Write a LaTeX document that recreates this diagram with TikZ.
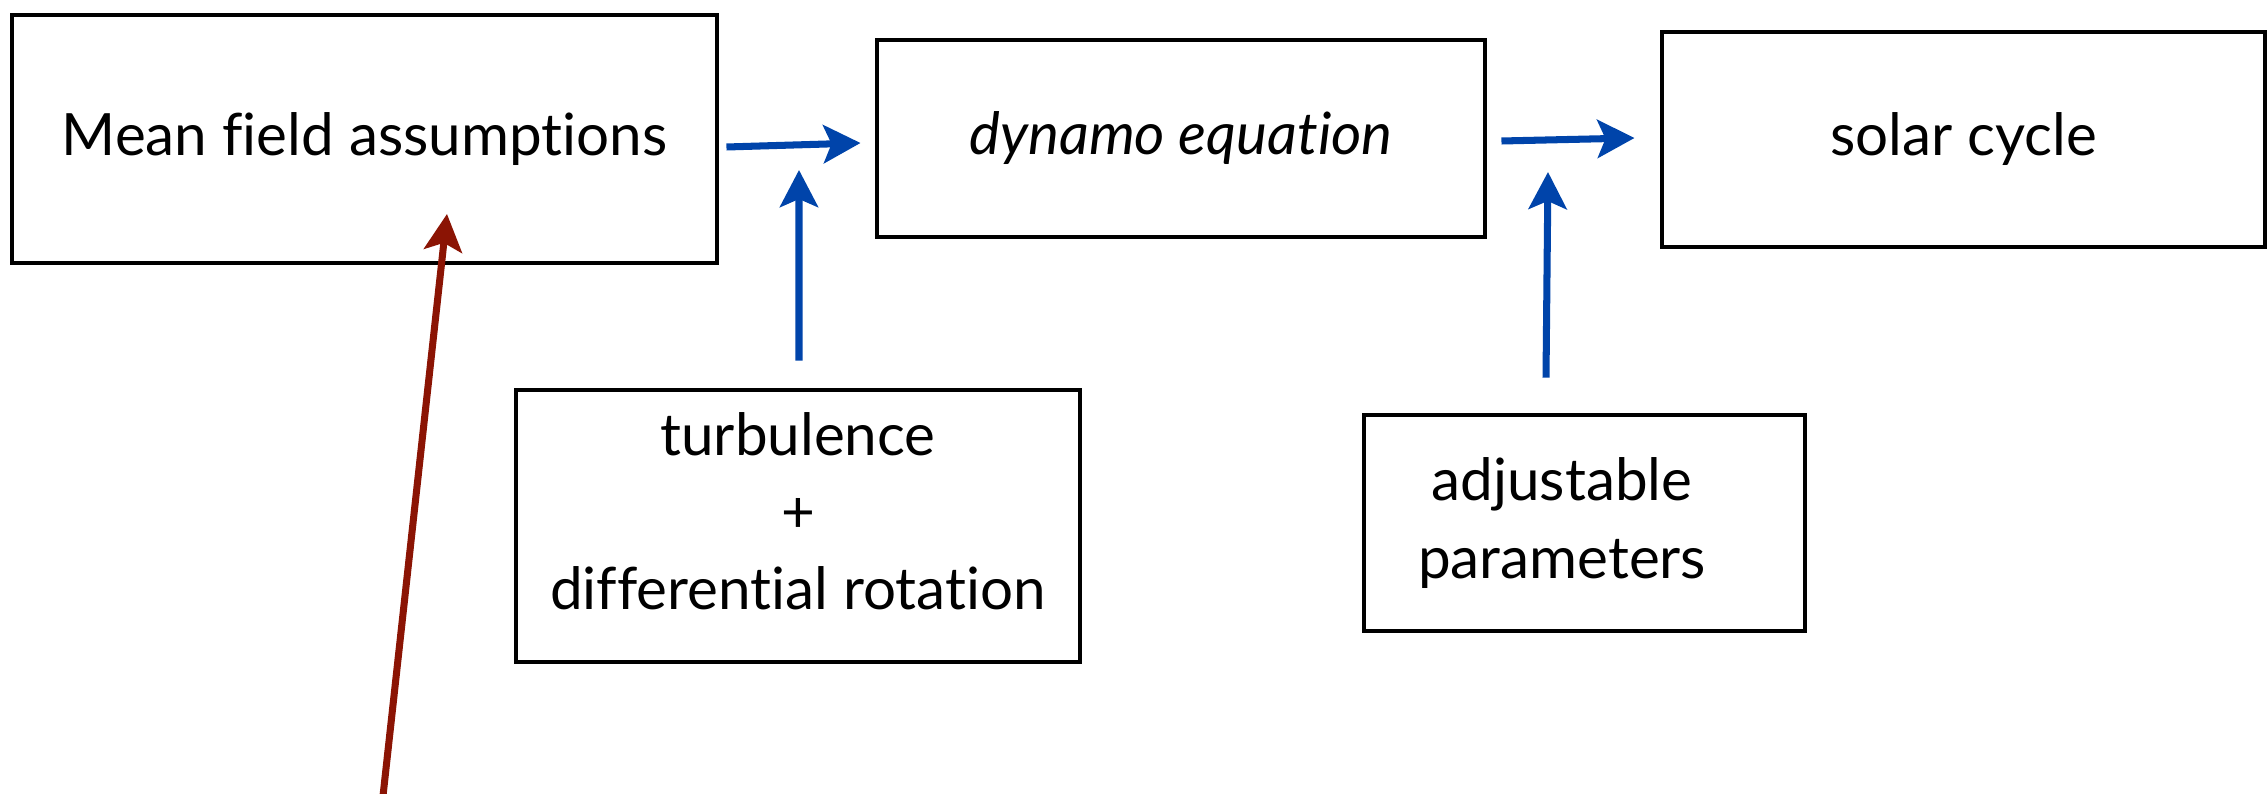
\documentclass[tikz,border=0pt]{standalone}
\usepackage{fontspec}
\setmainfont{Lato}[Ligatures=NoCommon]
\usetikzlibrary{arrows.meta, positioning}

\definecolor{flowblue}{RGB}{0,68,170}
\definecolor{flowred}{RGB}{139,20,4}

\begin{document}
\begin{tikzpicture}[
    font=\fontsize{16.6}{22}\selectfont,
    block/.style={
        rectangle, draw=black, line width=1.4pt, fill=white,
        align=center, inner sep=0pt
    },
    arrow/.style={
        -{Stealth[length=0.37cm, width=0.38cm, inset=0.08cm]}, line width=2pt, draw=flowblue
    },
    redarrow/.style={
        arrow, draw=flowred
    }
]
    \useasboundingbox (0,0) rectangle (22.68,-7.94);

    % --- NODES ---
    \node [block, minimum width=7.05cm, minimum height=2.48cm] (meanfield) at (3.645,-1.39) {Mean field assumptions};
    \node [block, minimum width=6.08cm, minimum height=1.97cm] (dynamo) at (11.81,-1.385) {\itshape dynamo equation};
    \node [block, minimum width=6.03cm, minimum height=2.15cm] (solar) at (19.635,-1.395) {solar cycle};
    \node [block, minimum width=5.64cm, minimum height=2.72cm, text depth=0.3cm] (turb) at (7.98,-5.26) {turbulence\\+\\differential rotation};
    \node [block, minimum width=4.41cm, minimum height=2.16cm] (adjust) at (15.845,-5.23) {adjustable\hspace*{0.45cm}\\parameters\hspace*{0.45cm}};

    \coordinate (turb_tip) at (7.99,-1.70);
    \coordinate (adjust_tip) at (15.48,-1.72);
    \coordinate (red_start) at (3.82,-8.05);
    \coordinate (red_tip) at (4.47,-2.14);

    % --- CONNECTING ARROWS ---
    \draw [arrow] ([xshift=0.07cm, yshift=-0.08cm]meanfield.east) -- ([xshift=-0.14cm, yshift=-0.045cm]dynamo.west);
    \draw [arrow] ([xshift=0.14cm, yshift=-0.025cm]dynamo.east) -- ([xshift=-0.25cm, yshift=0.015cm]solar.west);

    \draw [arrow] ([xshift=0.01cm, yshift=0.27cm]turb.north) -- (turb_tip);
    \draw [arrow] ([xshift=-0.385cm, yshift=0.35cm]adjust.north) -- (adjust_tip);

    \draw [redarrow] (red_start) -- (red_tip);

\end{tikzpicture}
\end{document}
